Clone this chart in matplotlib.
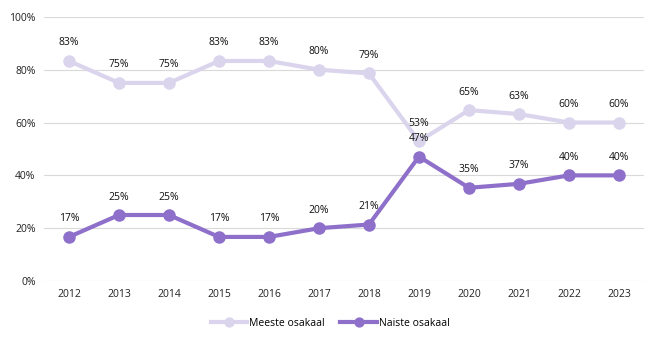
import matplotlib.pyplot as plt
from matplotlib.ticker import PercentFormatter

years = ["2012", "2013", "2014", "2015", "2016", "2017", "2018", "2019", "2020", "2021", "2022", "2023"]
meeste = [83.3, 75.0, 75.0, 83.3, 83.3, 80.0, 78.6, 52.9, 64.7, 63.2, 60.0, 60.0]
naiste = [16.7, 25.0, 25.0, 16.7, 16.7, 20.0, 21.4, 47.1, 35.3, 36.8, 40.0, 40.0]

plt.rcParams['font.family'] = ['Open Sans', 'DejaVu Sans']

fig = plt.figure(figsize=(6.5, 3.44), dpi=100)
ax = fig.add_axes([0.0677, 0.183, 0.923, 0.768])

x = range(len(years))
c_m = "#DAD4ED"
c_n = "#8E70CB"
ax.plot(x, meeste, color=c_m, lw=3, marker="o", ms=8, label="Meeste osakaal", zorder=3)
ax.plot(x, naiste, color=c_n, lw=3, marker="o", ms=8, label="Naiste osakaal", zorder=4)

for i in x:
    ax.annotate(f"{meeste[i]:.0f}%", (i, meeste[i]), xytext=(0, 9), textcoords="offset points",
                ha="center", va="bottom", fontsize=7.5, color="#111111")
    ax.annotate(f"{naiste[i]:.0f}%", (i, naiste[i]), xytext=(0, 9), textcoords="offset points",
                ha="center", va="bottom", fontsize=7.5, color="#111111")

ax.set_xlim(-0.5, len(years) - 0.5)
ax.set_ylim(0, 100)
ax.set_yticks(range(0, 101, 20))
ax.yaxis.set_major_formatter(PercentFormatter(decimals=0))
ax.set_xticks(list(x))
ax.set_xticklabels(years)
ax.tick_params(length=0, labelsize=7.5, colors="#222222", pad=6)
ax.grid(axis="y", color="#D9D9D9", lw=0.8)
ax.set_axisbelow(True)
for s in ax.spines.values():
    s.set_visible(False)

fig.legend(loc="center", bbox_to_anchor=(0.508, 0.06), ncol=2, frameon=False, fontsize=7.5,
           handlelength=3.5, columnspacing=1.5, handletextpad=0.2, markerscale=0.8)

fig.savefig("out.png", dpi=100)
